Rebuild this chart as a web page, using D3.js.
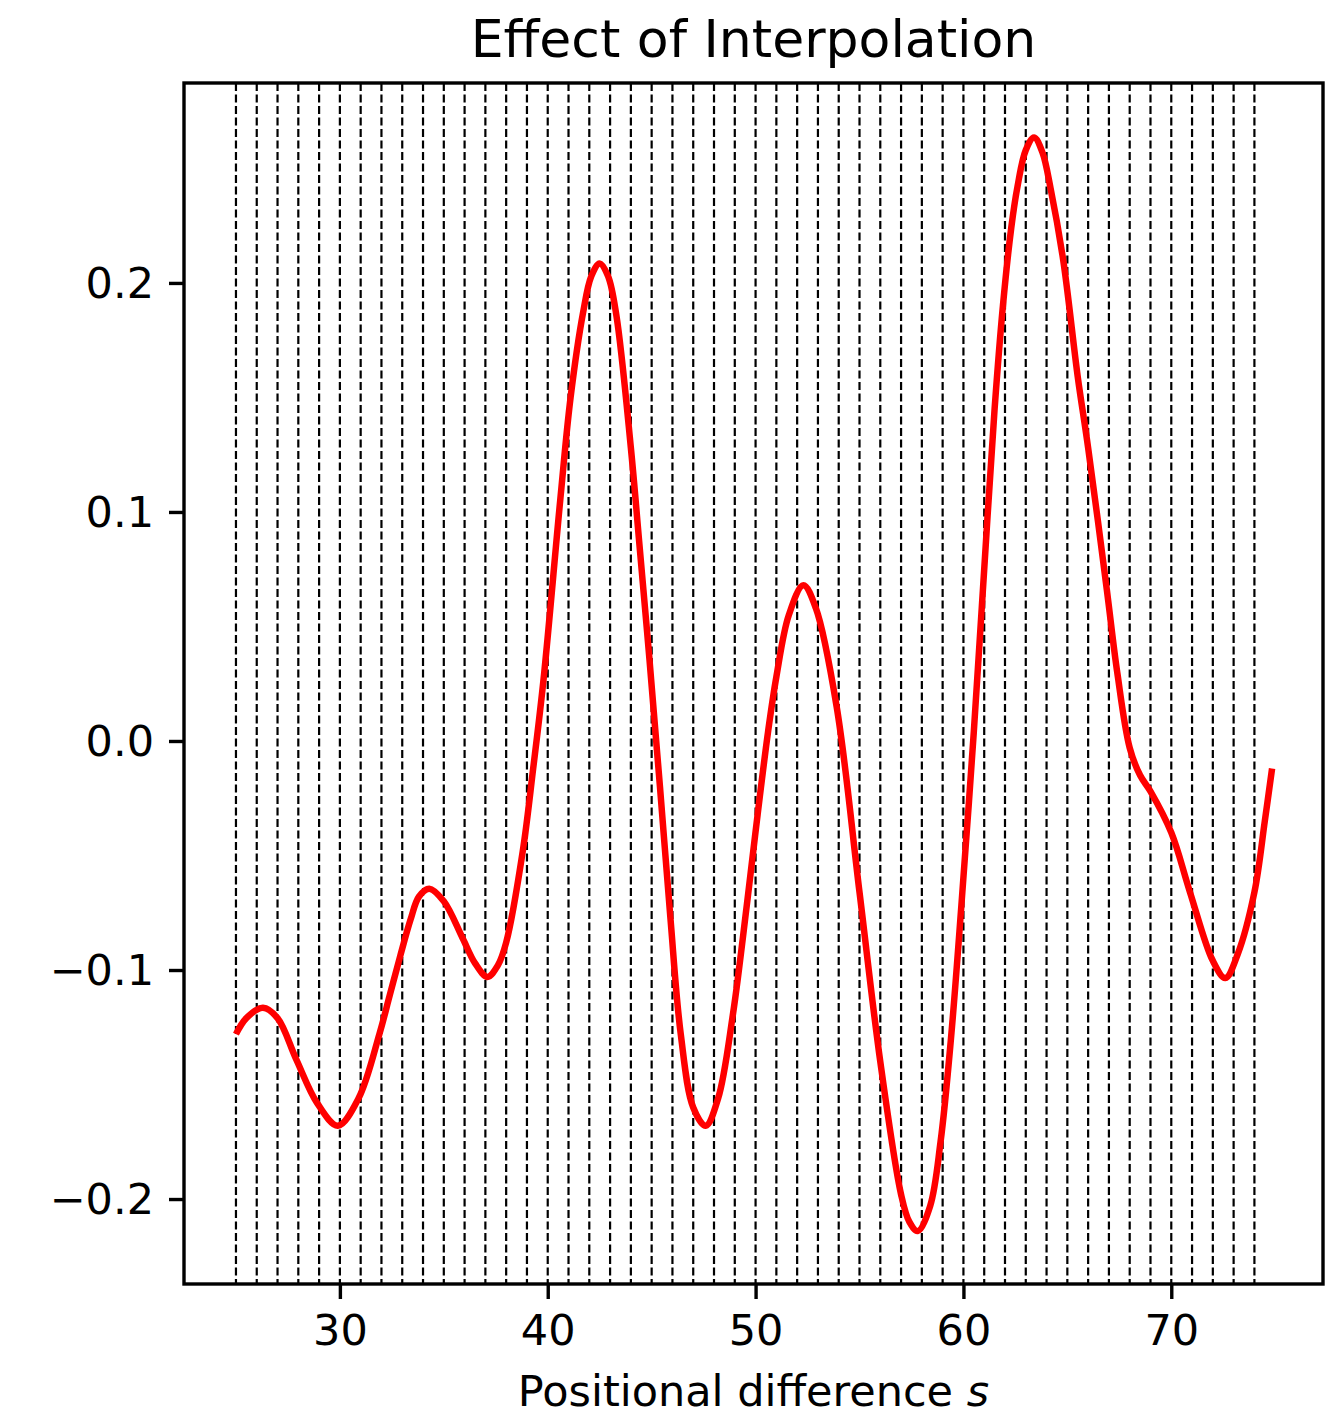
<!DOCTYPE html>
<html>
<head>
<meta charset="utf-8">
<script src="https://cdn.jsdelivr.net/npm/d3@7"></script>
<style>
    body { margin: 0; background: #fff; }
    svg { display: block; font-family: "DejaVu Sans", sans-serif; }
</style>
</head>
<body>
<svg id="chart" width="1338" height="1415"></svg>
<script>
// sample points (x = positional difference s)
const curveX = [25.0, 25.5, 26.3, 27.0, 27.9, 28.9, 29.9, 30.9, 31.9, 32.4, 32.9, 33.4, 33.8, 34.3, 35.0,
    35.9, 36.5, 37.1, 37.6, 38.0, 38.8, 39.3, 39.8, 40.6, 41.1, 41.7, 42.1, 42.5, 42.9, 43.3, 44.0,
    44.4, 44.9, 45.4, 45.9, 46.4, 47.0, 47.6, 48.2, 48.9, 49.6, 50.1, 50.6, 51.0, 51.6, 52.3, 52.9, 53.9,
    55.0, 56.0, 57.0, 57.4, 57.8, 58.4, 58.9, 59.4, 59.9, 60.5, 61.0, 61.5, 61.9, 62.3, 62.6, 63.0, 63.4, 63.8,
    64.2, 64.8, 65.5, 66.0, 66.9, 67.4, 68.0, 68.5, 69.0, 70.0, 70.9, 72.0, 72.6, 73.2, 74.0, 74.5, 74.85];
const curveY = [-0.128, -0.121, -0.1165, -0.121, -0.139, -0.158, -0.168, -0.156, -0.128, -0.111, -0.094, -0.078, -0.068, -0.0645, -0.070,
    -0.086, -0.097, -0.103, -0.098, -0.088, -0.048, -0.012, 0.027, 0.105, 0.150, 0.187, 0.203, 0.2085, 0.203, 0.186, 0.128,
    0.087, 0.035, -0.020, -0.077, -0.128, -0.160, -0.168, -0.156, -0.120, -0.070, -0.032, 0.004, 0.028, 0.055, 0.068, 0.058, 0.015,
    -0.066, -0.140, -0.198, -0.210, -0.214, -0.203, -0.175, -0.130, -0.072, 0.004, 0.075, 0.145, 0.190, 0.224, 0.242, 0.258, 0.2635, 0.257,
    0.241, 0.210, 0.159, 0.128, 0.066, 0.030, -0.003, -0.015, -0.022, -0.040, -0.066, -0.096, -0.1035, -0.093, -0.066, -0.035, -0.012];

// vertical dashed markers
const knots = [25, 26, 27, 28, 29, 30, 31, 32, 33, 34, 35, 36, 37, 38, 39, 40, 41, 42, 43, 44, 45, 46, 47, 48, 49,
    50, 51, 52, 53, 54, 55, 56, 57, 58, 59, 60, 61, 62, 63, 64, 65, 66, 67, 68, 69, 70, 71, 72, 73, 74];

const xTicks = [30, 40, 50, 60, 70];
const yTicks = [-0.2, -0.1, 0.0, 0.1, 0.2];

const titleText = "Effect of Interpolation";
const xLabelText = "Positional difference ";
const xLabelVar = "s";

// axes box in pixels
const box = {left: 184, right: 1323, top: 83, bottom: 1284};

const svg = d3.select("#chart");

const scaleX = d3.scaleLinear()
    .domain([22.5, 77.3])
    .range([box.left, box.right]);

const scaleY = d3.scaleLinear()
    .domain([-0.2371, 0.2873])
    .range([box.bottom, box.top]);

// dashed lines at each knot
svg.append("g")
    .selectAll("line")
    .data(knots)
    .join("line")
    .attr("x1", d => scaleX(d))
    .attr("x2", d => scaleX(d))
    .attr("y1", box.top)
    .attr("y2", box.bottom)
    .attr("stroke", "#000")
    .attr("stroke-width", 2.2)
    .attr("stroke-dasharray", "8,3.5");

// the red curve
let points = curveX.map((x, i) => [x, curveY[i]]);
let line = d3.line()
    .x(d => scaleX(d[0]))
    .y(d => scaleY(d[1]))
    .curve(d3.curveCatmullRom.alpha(0.5));

svg.append("path")
    .datum(points)
    .attr("d", line)
    .attr("fill", "none")
    .attr("stroke", "#ff0000")
    .attr("stroke-width", 6.5)
    .attr("stroke-linejoin", "round")
    .attr("stroke-linecap", "butt");

// axes
const fmtY = d => d3.format(".1f")(d).replace("-", "\u2212");

let xAxis = d3.axisBottom(scaleX)
    .tickValues(xTicks)
    .tickSize(15)
    .tickPadding(15)
    .tickFormat(d3.format("d"));

let yAxis = d3.axisLeft(scaleY)
    .tickValues(yTicks)
    .tickSize(15)
    .tickPadding(15)
    .tickFormat(fmtY);

let gx = svg.append("g")
    .attr("transform", `translate(0,${box.bottom})`)
    .call(xAxis);
let gy = svg.append("g")
    .attr("transform", `translate(${box.left},0)`)
    .call(yAxis);

for (let g of [gx, gy]) {
    g.select(".domain").remove();
    g.selectAll(".tick line")
        .attr("stroke", "#000")
        .attr("stroke-width", 3.4);
    g.selectAll(".tick text")
        .attr("fill", "#000")
        .attr("font-family", "DejaVu Sans")
        .attr("font-size", 43);
}
gx.selectAll(".tick text").attr("dy", "0.71em");
gy.selectAll(".tick text").attr("dy", "0.34em");

// frame
svg.append("rect")
    .attr("x", box.left)
    .attr("y", box.top)
    .attr("width", box.right - box.left)
    .attr("height", box.bottom - box.top)
    .attr("fill", "none")
    .attr("stroke", "#000")
    .attr("stroke-width", 3.4);

// title
svg.append("text")
    .attr("x", (box.left + box.right) / 2)
    .attr("y", 57)
    .attr("text-anchor", "middle")
    .attr("font-size", 52)
    .attr("fill", "#000")
    .text(titleText);

// x label with italic variable
let xLabel = svg.append("text")
    .attr("x", (box.left + box.right) / 2)
    .attr("y", 1406)
    .attr("text-anchor", "middle")
    .attr("font-size", 43)
    .attr("fill", "#000");
xLabel.append("tspan").text(xLabelText);
xLabel.append("tspan").attr("font-style", "italic").text(xLabelVar);
</script>
</body>
</html>
